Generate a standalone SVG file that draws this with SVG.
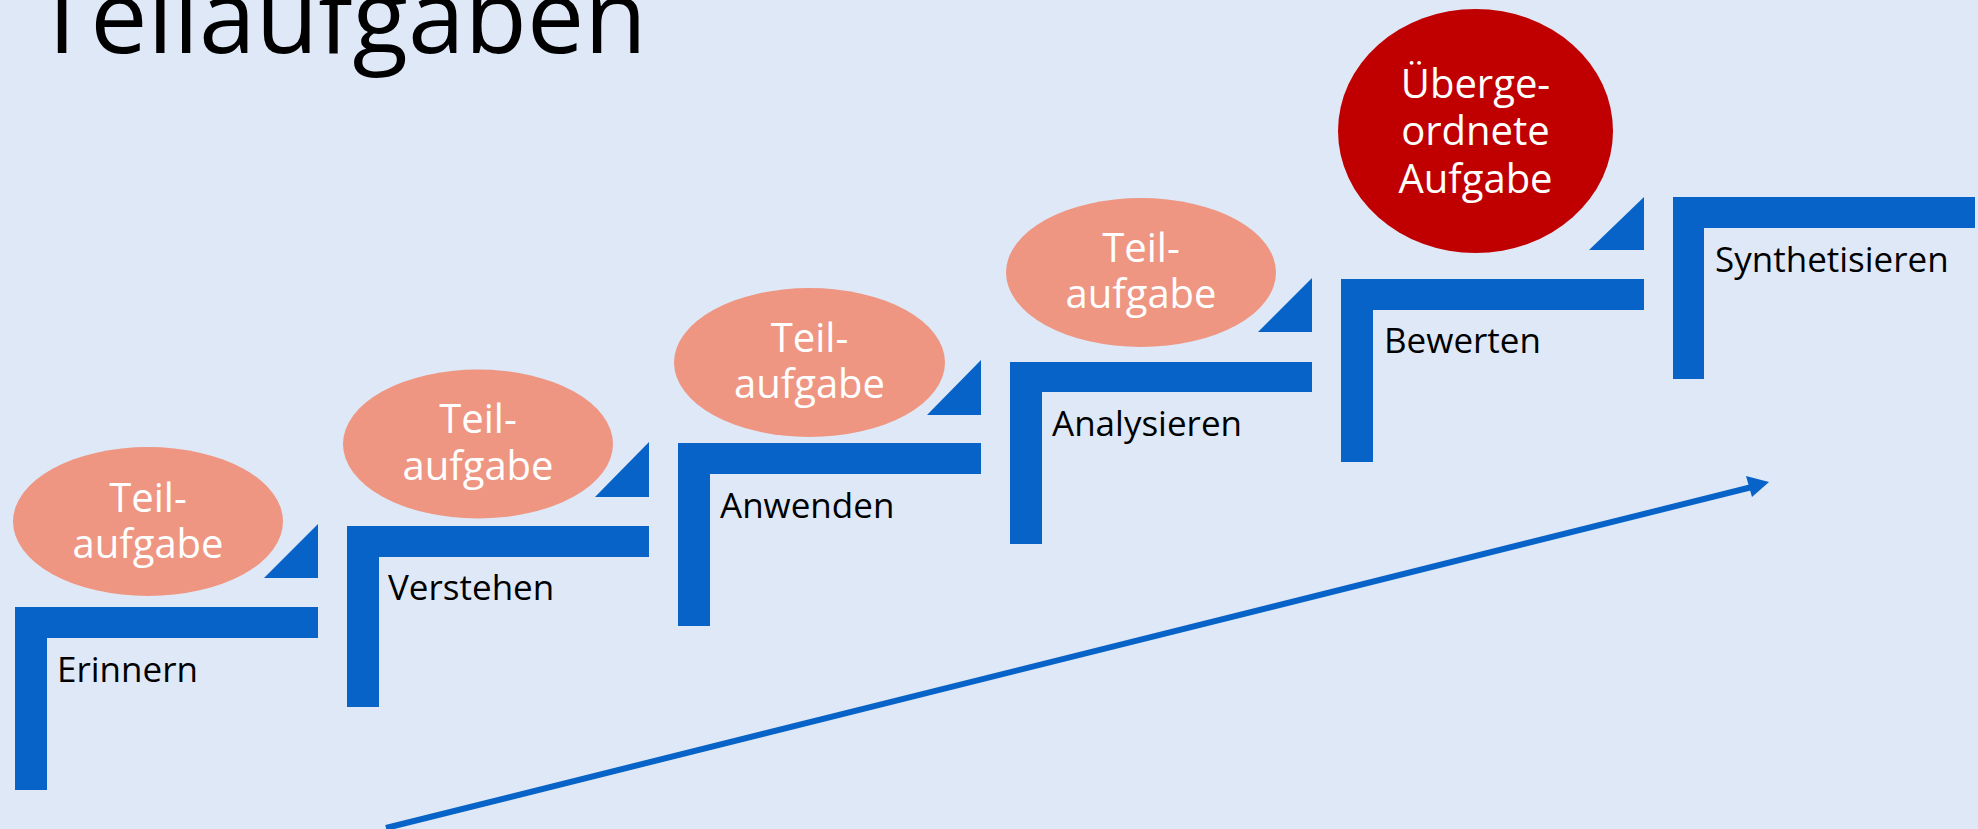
<svg xmlns="http://www.w3.org/2000/svg" width="1978" height="829" viewBox="0 0 1978 829">
<defs>
<style>
.bar{fill:#0763C8;}
.lbl{font-family:"Open Sans","Liberation Sans",sans-serif;font-size:35px;fill:#000;}
.sub{fill:#EE9682;}
.main{fill:#C00000;}
.etx{font-family:"Open Sans","Liberation Sans",sans-serif;font-size:40px;fill:#fff;text-anchor:middle;}
.title{font-family:"Open Sans","Liberation Sans",sans-serif;font-size:102px;fill:#000;}
</style>
</defs>
<rect x="0" y="0" width="1978" height="829" fill="#DFE8F6"/>
<text class="title" x="34" y="53">Teilaufgaben</text>

<g id="step1">
<path class="bar" d="M15 607 H318 V638 H47 V790 H15 Z"/>
<polygon class="bar" points="264,578 318,524 318,578"/>
<text class="lbl" x="57" y="682">Erinnern</text>
</g>
<g id="step2">
<path class="bar" d="M347 526 H649 V557 H379 V707 H347 Z"/>
<polygon class="bar" points="595,497 649,442 649,497"/>
<text class="lbl" x="388" y="600">Verstehen</text>
</g>
<g id="step3">
<path class="bar" d="M678 443 H981 V474 H710 V626 H678 Z"/>
<polygon class="bar" points="927,415 981,360 981,415"/>
<text class="lbl" x="720" y="518">Anwenden</text>
</g>
<g id="step4">
<path class="bar" d="M1010 362 H1312 V392 H1042 V544 H1010 Z"/>
<polygon class="bar" points="1258,332 1312,278 1312,332"/>
<text class="lbl" x="1052" y="436">Analysieren</text>
</g>
<g id="step5">
<path class="bar" d="M1341 279 H1644 V310 H1373 V462 H1341 Z"/>
<polygon class="bar" points="1589,250 1644,197 1644,250"/>
<text class="lbl" x="1384" y="353">Bewerten</text>
</g>
<g id="step6">
<path class="bar" d="M1673 197 H1975 V228 H1704 V379 H1673 Z"/>
<text class="lbl" x="1715" y="272">Synthetisieren</text>
</g>

<g id="task1">
<ellipse class="sub" cx="148" cy="521.5" rx="135" ry="74.5"/>
<text class="etx" x="148" y="512">Teil-<tspan x="148" dy="46">aufgabe</tspan></text>
</g>
<g id="task2">
<ellipse class="sub" cx="478" cy="444" rx="135" ry="74.5"/>
<text class="etx" x="478" y="433">Teil-<tspan x="478" dy="47">aufgabe</tspan></text>
</g>
<g id="task3">
<ellipse class="sub" cx="809.5" cy="362.5" rx="135.5" ry="74.5"/>
<text class="etx" x="809.5" y="352">Teil-<tspan x="809.5" dy="46">aufgabe</tspan></text>
</g>
<g id="task4">
<ellipse class="sub" cx="1141" cy="272.5" rx="135" ry="74.5"/>
<text class="etx" x="1141" y="262">Teil-<tspan x="1141" dy="46">aufgabe</tspan></text>
</g>
<g id="maintask">
<ellipse class="main" cx="1475.5" cy="131" rx="137.5" ry="122"/>
<text class="etx" x="1475.5" y="98">Überge-<tspan x="1475.5" dy="47">ordnete</tspan><tspan x="1475.5" dy="48">Aufgabe</tspan></text>
</g>

<g id="connectors">
<line x1="386" y1="828" x2="1752" y2="487" stroke="#0763C8" stroke-width="6"/>
<polygon class="bar" points="1769,482 1746,476 1752,497"/>
</g>
</svg>
